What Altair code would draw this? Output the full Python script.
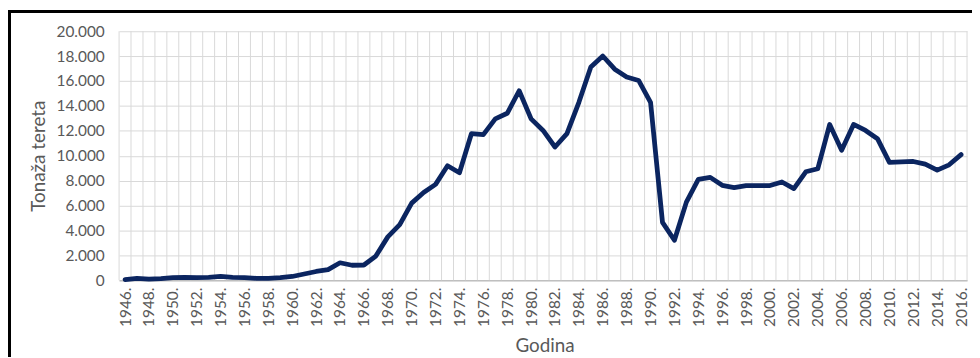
import altair as alt
import pandas as pd

years = list(range(1946, 2017))
tonnage = [
    50, 150, 80, 120, 200, 220, 200, 220, 300, 220,
    200, 150, 150, 200, 300, 500, 700, 850, 1400, 1200,
    1220, 1940, 3480, 4460, 6190, 7040, 7700, 9190, 8630, 11770,
    11690, 12960, 13410, 15220, 12960, 12030, 10700, 11770, 14290, 17130,
    18010, 16950, 16330, 16050, 14290, 4650, 3210, 6270, 8100, 8260,
    7620, 7440, 7600, 7600, 7600, 7890, 7360, 8710, 8950, 12510,
    10440, 12510, 12030, 11370, 9460, 9510, 9540, 9320, 8840, 9270,
    10090,
]
label_years = list(range(1946, 2017, 2))
y_ticks = list(range(0, 20001, 2000))
boundaries = [y - 0.5 for y in years] + [years[-1] + 0.5]

df = pd.DataFrame({"Godina": years, "Tonaza": tonnage})
grid_df = pd.DataFrame({"b": boundaries})

FONT = "Lato"
TXT = "#595959"
GRID = "#d9d9d9"

xscale = alt.Scale(domain=[years[0] - 0.5, years[-1] + 0.5], nice=False, zero=False)
xaxis = alt.Axis(
    values=label_years,
    labelExpr="datum.value + '.'",
    labelAngle=-90,
    labelPadding=7,
    ticks=False,
    grid=False,
    domainColor="#bfbfbf",
    domainWidth=1.5,
    title="Godina",
    titleX=429,
    titleY=72,
    titleBaseline="alphabetic",
    titleAlign="center",
)

vgrid = alt.Chart(grid_df).mark_rule(color=GRID, strokeWidth=1).encode(
    x=alt.X("b:Q", scale=xscale, axis=xaxis, title="Godina")
)

line = alt.Chart(df).mark_line(
    color="#0b2560", strokeWidth=4.8, strokeJoin="round", strokeCap="round"
).encode(
    x=alt.X("Godina:Q", scale=xscale, axis=xaxis),
    y=alt.Y(
        "Tonaza:Q",
        scale=alt.Scale(domain=[0, 20000], nice=False),
        axis=alt.Axis(
            values=y_ticks,
            labelExpr="replace(format(datum.value, ',d'), ',', '.')",
            ticks=False,
            domain=False,
            grid=True,
            gridColor=GRID,
            labelPadding=15,
            title="Tonaža tereta",
            titleX=-81,
            titleY=125.5,
            titleAngle=-90,
            titleAlign="center",
            titleBaseline="middle",
        ),
    ),
)

frame = alt.Chart(df).mark_rect(
    filled=False, stroke="black", strokeWidth=2.5
).encode(
    x=alt.value(-111),
    x2=alt.value(880),
    y=alt.value(-20),
    y2=alt.value(400),
)

chart = alt.layer(vgrid, line, frame).properties(
    width=855,
    height=251,
    autosize=alt.AutoSizeParams(type="none"),
    padding={"left": 112, "top": 22, "right": 5, "bottom": 76},
).configure_view(stroke=None).configure_axis(
    labelFont=FONT,
    titleFont=FONT,
    labelFontSize=15.5,
    titleFontSize=19,
    labelColor=TXT,
    titleColor=TXT,
    titleFontWeight="normal",
)

chart.save("out.html", embed_options={"renderer": "svg", "actions": False})
